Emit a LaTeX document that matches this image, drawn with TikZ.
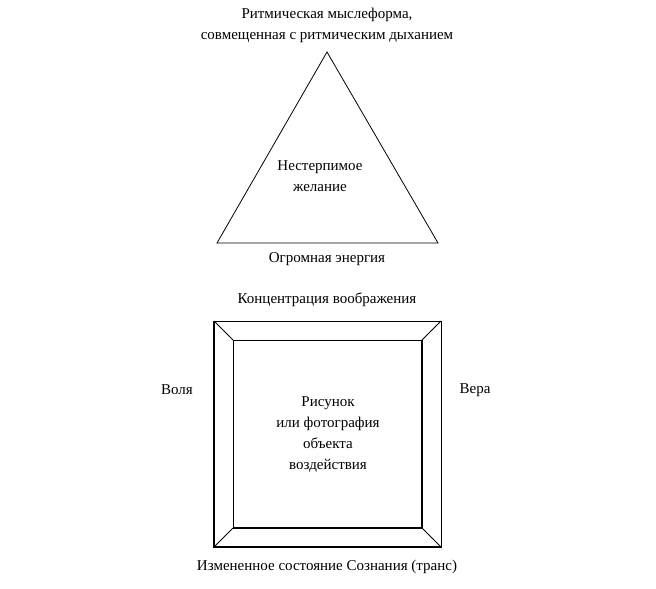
\documentclass[tikz,border=0pt]{standalone}
\usepackage{fontspec}
\setmainfont{Liberation Serif}
\begin{document}
\begin{tikzpicture}[x=1pt,y=-1pt,
  lbl/.style={font=\fontsize{15}{21}\selectfont,align=center,inner sep=0pt},
  ln/.style={draw=black,line width=0.8pt}]
\useasboundingbox (0,0) rectangle (656,589);
\coordinate (A) at (327,52);
\coordinate (B) at (217,243);
\coordinate (C) at (438,243);
\draw[ln] (A) -- (B) -- (C) -- cycle;
\node[lbl] (top) at (327,25) {Ритмическая мыслеформа,\\совмещенная с ритмическим дыханием};
\node[lbl] (mid) at (320,176) {Нестерпимое\\желание};
\node[lbl] (bot) at (327,259) {Огромная энергия};
\coordinate (o1) at (214,321);
\coordinate (o2) at (441,321);
\coordinate (o3) at (441,547);
\coordinate (o4) at (214,547);
\coordinate (i1) at (233,340);
\coordinate (i2) at (422,340);
\coordinate (i3) at (422,528);
\coordinate (i4) at (233,528);
\draw[ln] (o1) -- (o2) -- (o3) -- (o4) -- cycle;
\draw[ln,line width=1.4pt] (o1) -- (o4) -- (o3);
\draw[ln] (i1) -- (i2) -- (i3) -- (i4) -- cycle;
\draw[ln,line width=1.4pt] (i2) -- (i3) -- (i4);
\draw[ln] (o1) -- (i1) (o2) -- (i2) (o3) -- (i3) (o4) -- (i4);
\node[lbl] (conc) at (327,300) {Концентрация воображения};
\node[lbl] (volya) at (177,390) {Воля};
\node[lbl] (vera) at (475,390) {Вера};
\node[lbl] (pic) at (328,435) {Рисунок\\или фотография\\объекта\\воздействия};
\node[lbl] (trans) at (327,567) {Измененное состояние Сознания (транс)};
\end{tikzpicture}
\end{document}
